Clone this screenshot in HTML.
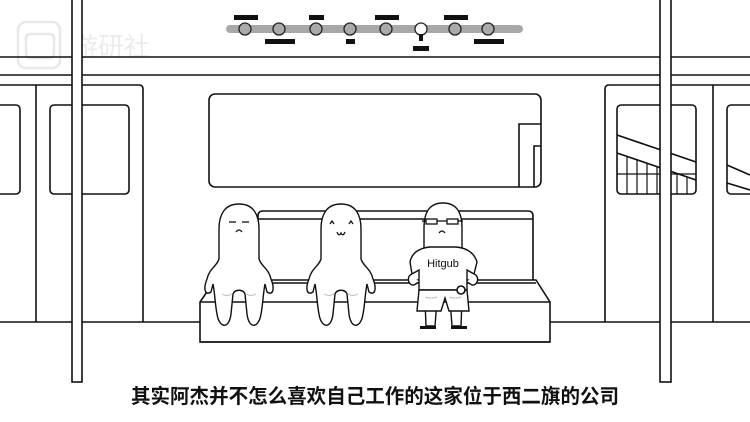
<!DOCTYPE html>
<html><head><meta charset="utf-8"><style>
html,body{margin:0;padding:0;background:#fff;width:750px;height:422px;overflow:hidden}
svg{display:block}
</style></head><body>
<svg width="750" height="422" viewBox="0 0 750 422" xmlns="http://www.w3.org/2000/svg" fill="none" stroke="#111" stroke-width="1.6">
<rect width="750" height="422" fill="#fff" stroke="none"/>
<!-- watermark -->
<g stroke="#e8e8e8" stroke-width="2.5">
<rect x="18" y="22" width="42" height="46" rx="8"/>
<rect x="26" y="34" width="28" height="24" rx="4"/>
</g>
<text x="72" y="56" font-family="'Liberation Sans','Noto Sans CJK SC',sans-serif" font-size="26" fill="#ececec" stroke="none">游研社</text>
<!-- ceiling lines -->
<line x1="0" y1="57" x2="750" y2="57"/>
<line x1="0" y1="75" x2="750" y2="75"/>
<!-- line map -->
<line x1="230" y1="29" x2="519" y2="29" stroke="#a8a8a8" stroke-width="8" stroke-linecap="round"/>
<g fill="#aaa" stroke="#222" stroke-width="1.3">
<circle cx="245" cy="29" r="6"/><circle cx="279" cy="29" r="6"/><circle cx="316" cy="29" r="6"/><circle cx="350" cy="29" r="6"/><circle cx="386" cy="29" r="6"/><circle cx="455" cy="29" r="6"/><circle cx="488" cy="29" r="6"/>
<circle cx="421" cy="29" r="6" fill="#fff"/>
</g>
<g fill="#111" stroke="none">
<rect x="419" y="34" width="4" height="7"/>
<rect x="234" y="15" width="24" height="5"/><rect x="309" y="15" width="15" height="5"/><rect x="375" y="15" width="24" height="5"/><rect x="444" y="15" width="24" height="5"/>
<rect x="265" y="39" width="30" height="5"/><rect x="346" y="39" width="9" height="5"/><rect x="413" y="46" width="16" height="5"/><rect x="474" y="39" width="30" height="5"/>
</g>
<!-- left doors -->
<path d="M0,85 H139 Q143,85 143,89 V322"/>
<line x1="36" y1="85" x2="36" y2="322"/>
<rect x="-5" y="105" width="25" height="89" rx="4"/>
<rect x="50" y="105" width="79" height="89" rx="4"/>
<!-- right doors -->
<path d="M605,322 V89 Q605,85 609,85 H750"/>
<line x1="713" y1="85" x2="713" y2="322"/>
<rect x="617" y="105" width="79" height="89" rx="4"/>
<rect x="727" y="105" width="30" height="89" rx="4"/>
<line x1="617" y1="135" x2="696" y2="162"/>
<line x1="617" y1="153" x2="696" y2="180"/>
<line x1="727" y1="165" x2="750" y2="175"/>
<line x1="727" y1="183" x2="750" y2="190"/>
<g stroke-width="1.2">
<line x1="617" y1="174" x2="696" y2="174"/>
<line x1="627" y1="157" x2="627" y2="194"/><line x1="637" y1="160" x2="637" y2="194"/><line x1="647" y1="164" x2="647" y2="194"/><line x1="657" y1="167" x2="657" y2="194"/><line x1="677" y1="174" x2="677" y2="194"/><line x1="687" y1="177" x2="687" y2="194"/>
</g>
<!-- floor -->
<line x1="0" y1="322" x2="750" y2="322"/>
<!-- ad panel -->
<rect x="209" y="94" width="332" height="93" rx="6"/>
<path d="M519,187 V124 H541"/>
<path d="M534,187 V146 H541"/>
<!-- bench -->
<path d="M258,285 V216 Q258,211 263,211 H528 Q533,211 533,216 V285" fill="#fff"/>
<line x1="258" y1="219" x2="533" y2="219"/>
<path d="M200,342 V302 L215,280 H536 L550,302 V342 Z" fill="#fff"/>
<line x1="200" y1="302" x2="550" y2="302"/>
<line x1="215" y1="283" x2="536" y2="283"/>
<line x1="200" y1="342" x2="550" y2="342"/>
<!-- characters -->
<g fill="#fff" stroke-width="1.4">
<path transform="translate(239,204)" d="M0,0 C14,0 20,10 20,25 L20,55 C22,62 30,65 32,75 C36,85 34,92 28,88 L26,80 C24,90 24,100 22,110 C20,124 10,126 8,110 L6,90 C4,85 -4,85 -6,90 L-8,110 C-10,126 -20,124 -22,110 C-24,100 -24,90 -26,80 L-28,88 C-34,92 -36,85 -32,75 C-30,65 -22,62 -20,55 L-20,25 C-20,10 -14,0 0,0 Z"/>
<path transform="translate(341,204)" d="M0,0 C14,0 20,10 20,25 L20,55 C22,62 30,65 32,75 C36,85 34,92 28,88 L26,80 C24,90 24,100 22,110 C20,124 10,126 8,110 L6,90 C4,85 -4,85 -6,90 L-8,110 C-10,126 -20,124 -22,110 C-24,100 -24,90 -26,80 L-28,88 C-34,92 -36,85 -32,75 C-30,65 -22,62 -20,55 L-20,25 C-20,10 -14,0 0,0 Z"/>
<!-- char3 -->
<path d="M425,300 L426,326 H435 L437,300 Z"/>
<path d="M450,300 L452,326 H461 L462,300 Z"/>
<path d="M443,203 C458,203 462,214 462,228 L462,250 L443,252 L424,250 L424,228 C424,214 428,203 443,203 Z"/>
<path d="M410,262 C412,252 420,248 430,247 H456 C466,248 474,252 477,262 L474,274 L467,270 L467,290 H419 L419,270 L412,274 Z"/>
<path d="M419,290 H467 L469,311 H449 L445,298 L441,311 H417 Z"/>
<path d="M412,274 C406,276 408,286 414,285 L419,282"/><path d="M474,274 C480,276 478,286 472,285 L467,282"/>
</g>
<g fill="#111" stroke="none">
<rect x="420" y="326" width="16" height="3"/><rect x="451" y="326" width="16" height="3"/>
</g>
<circle cx="461" cy="290" r="4" fill="#fff"/>
<g stroke-width="1.3">
<line x1="229" y1="222" x2="236" y2="222"/><line x1="242" y1="222" x2="249" y2="222"/><path d="M236,232 Q239,228 242,232"/>
<path d="M330,224 L332,221 L334,224"/><path d="M349,224 L351,221 L353,224"/><path d="M337,232 Q339,237 341,233 Q343,237 345,232"/>
<rect x="426" y="219" width="11" height="5"/><rect x="447" y="219" width="11" height="5"/><line x1="437" y1="221" x2="447" y2="221"/><line x1="422" y1="221" x2="426" y2="221"/><line x1="458" y1="221" x2="463" y2="221"/>
<path d="M439,233 Q442,229 445,233"/>
</g>
<g stroke="#bbb" stroke-width="1"><path d="M222,294 Q227,297 232,294"/><path d="M246,294 Q251,297 256,294"/><path d="M324,294 Q329,297 334,294"/><path d="M348,294 Q353,297 358,294"/><path d="M425,297 Q431,299 437,297"/><path d="M449,297 Q455,299 461,297"/></g>
<text x="443" y="267" text-anchor="middle" font-family="'Liberation Sans',sans-serif" font-size="11" fill="#111" stroke="none">Hitgub</text>
<!-- poles -->
<g fill="#fff">
<rect x="72" y="-2" width="10" height="384"/>
<rect x="660" y="-2" width="11" height="384"/>
</g>
<text x="131" y="403" textLength="488" lengthAdjust="spacingAndGlyphs" font-family="'Liberation Sans','Noto Sans CJK SC',sans-serif" font-size="20" font-weight="bold" fill="#111" stroke="none">其实阿杰并不怎么喜欢自己工作的这家位于西二旗的公司</text>
</svg>
</body></html>
